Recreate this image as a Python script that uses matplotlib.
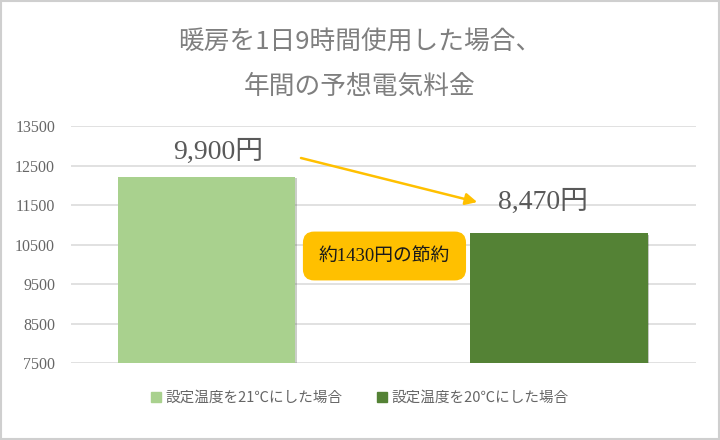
import matplotlib.pyplot as plt
import matplotlib.patheffects as pe
from matplotlib.patches import Rectangle

plt.rcParams['font.family'] = ['Noto Sans CJK JP', 'DejaVu Sans']

series = ["設定温度を21℃にした場合", "設定温度を20℃にした場合"]
values = [12220, 10780]
value_labels = ["9,900円", "8,470円"]
saving_label = "約1430円の節約"
yticks = [7500, 8500, 9500, 10500, 11500, 12500, 13500]
title = "暖房を1日9時間使用した場合、\n年間の予想電気料金"

colours = ["#A9D18E", "#548235"]
orange = "#FFC000"
serif = ["Liberation Serif", "Noto Sans CJK JP"]

fig = plt.figure(figsize=(7.2, 4.4), dpi=100)
ax = fig.add_axes([0.0986, 0.175, 0.868, 0.5386])

xs = list(range(len(values)))
bars = ax.bar(xs, values, width=0.503, color=colours, zorder=3)
for b in bars:
    b.set_path_effects([pe.SimplePatchShadow(offset=(1.2, -1.2), alpha=0.25),
                        pe.Normal()])

ax.set_xlim(-0.386, 1.389)
ax.set_ylim(yticks[0], yticks[-1])
ax.set_yticks(yticks)
ax.set_xticks([])
ax.grid(axis="y", color="#d9d9d9", linewidth=1.1, zorder=0)
for s in ax.spines.values():
    s.set_visible(False)
ax.tick_params(axis="y", length=0, pad=11.5, labelcolor="#666666")
for t in ax.get_yticklabels():
    t.set_fontfamily("Liberation Serif")
    t.set_fontsize(11.5)

# value labels above the bars
offsets = [(8, 17.5), (-11.5, 22.5)]
for x, v, lab, off in zip(xs, values, value_labels, offsets):
    ax.annotate(lab, (x, v), xytext=off, textcoords="offset points",
                ha="center", va="center", fontsize=20, color="#595959",
                family=serif)

# arrow between the labels
ax.annotate("", xy=(0.650, 0.679), xytext=(0.368, 0.865),
            xycoords="axes fraction", textcoords="axes fraction",
            arrowprops=dict(arrowstyle="-|>,head_length=0.7,head_width=0.35",
                            color=orange, lw=1.8, shrinkA=0, shrinkB=0))

# callout
ax.text(0.5016, 0.4515, saving_label, transform=ax.transAxes,
        ha="center", va="center", fontsize=13.5, color="#1a1a1a", family=serif,
        bbox=dict(boxstyle="round,pad=0.85,rounding_size=0.6",
                  fc=orange, ec="none"), zorder=5)

fig.text(0.5, 0.853, title, ha="center", va="center", fontsize=18.5,
         color="#7f7f7f", linespacing=1.95)

handles = [Rectangle((0, 0), 1, 1, color=c) for c in colours]
fig.legend(handles, series, loc="center", bbox_to_anchor=(0.5, 0.0955),
           ncol=2, frameon=False, fontsize=10.5, labelcolor="#666666",
           handlelength=0.65, handleheight=0.65, handletextpad=0.3,
           columnspacing=2.4)

# light border around the chart
fig.patches.append(Rectangle((0.001, 0.002), 0.997, 0.996,
                             transform=fig.transFigure, fill=False,
                             ec="#cfcfcf", lw=1.5))

fig.savefig("out.png", dpi=100)
